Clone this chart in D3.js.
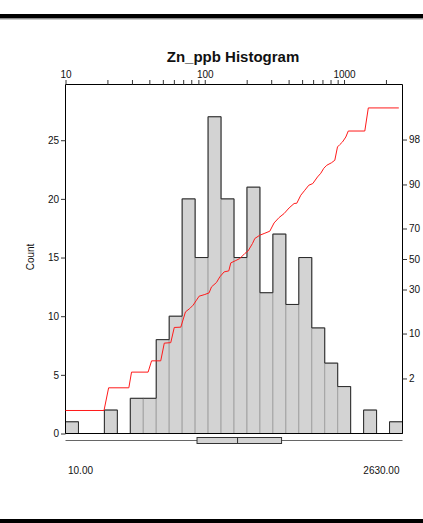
<!DOCTYPE html>
<html>
<head>
<meta charset="utf-8">
<script src="https://cdn.jsdelivr.net/npm/d3@7"></script>
<style>
  html, body { margin: 0; padding: 0; background: #fff; }
  svg { display: block; }
  text { font-family: "Liberation Sans", Arial, sans-serif; fill: #111; }
</style>
</head>
<body>
<svg id="chart" width="423" height="523"></svg>
<script>
// ---------------- data ----------------
const titleText = "Zn_ppb Histogram";
const yAxisLabel = "Count";
const dataMin = 10;
const dataMax = 2630;
// 26 equal-width (log) bins from dataMin to dataMax
const binCounts = [1, 0, 0, 2, 0, 3, 3, 8, 10, 20, 15, 27, 20, 15, 21, 12, 17, 11, 15, 9, 6, 4, 0, 2, 0, 1];
const countTicks = [0, 5, 10, 15, 20, 25];
const logMajorTicks = [10, 100, 1000];
const logMinorTicks = [20, 30, 40, 50, 60, 70, 80, 90, 200, 300, 400, 500, 600, 700, 800, 900, 2000];
const pctTicks = [2, 10, 30, 50, 70, 90, 98];
// cumulative probability line (value in ppb, cumulative percent)
const cdfValue = [10, 18.9, 20.4, 28.5, 29.8, 39.2, 41.5, 48.3, 51.2, 57.0, 60.4, 67.3, 72.7, 78.1, 82.5, 87.2, 91.1, 100.1,
  107.4, 111.8, 121.4, 128.2, 137.7, 148.8, 153.8, 167.1, 178.5, 193.9, 204.8, 220.2, 228.8, 248.5, 266.8, 293.1, 314.7,
  341.9, 371.3, 403.3, 438.1, 458.1, 489.3, 522.9, 558.5, 596.7, 645.0, 681.3, 715.8, 752.3, 813.0, 858.6, 897.8, 932.6,
  975.2, 1030, 1073, 1410, 1494, 2474];
const cdfPercent = [0.46, 0.46, 1.34, 1.34, 2.59, 2.59, 4.00, 4.00, 7.40, 7.52, 11.96, 12.06, 18.17, 19.75, 21.37, 23.95,
  26.13, 27.09, 28.01, 31.58, 34.32, 37.92, 41.23, 41.90, 47.33, 48.97, 50.34, 53.76, 55.53, 60.50, 63.77, 65.87, 66.93,
  68.36, 73.25, 76.21, 78.28, 81.00, 82.99, 83.12, 86.35, 88.14, 89.76, 90.27, 92.08, 92.98, 94.06, 94.65, 95.10, 95.52,
  97.30, 97.54, 97.79, 98.20, 98.61, 98.61, 99.53, 99.53];
// box plot summary
const boxMin = 10, boxQ1 = 88, boxMedian = 172, boxQ3 = 356, boxMax = 2630;

// ---------------- helpers ----------------
function probit(p) {
  // Acklam's inverse normal approximation
  const a = [-3.969683028665376e+01, 2.209460984245205e+02, -2.759285104469687e+02, 1.383577518672690e+02, -3.066479806614716e+01, 2.506628277459239e+00];
  const b = [-5.447609879822406e+01, 1.615858368580409e+02, -1.556989798598866e+02, 6.680131188771972e+01, -1.328068155288572e+01];
  const c = [-7.784894002430293e-03, -3.223964580411365e-01, -2.400758277161838e+00, -2.549732539343734e+00, 4.374664141464968e+00, 2.938163982698783e+00];
  const d = [7.784695709041462e-03, 3.224671290700398e-01, 2.445134137142996e+00, 3.754408661907416e+00];
  const pl = 0.02425, ph = 1 - pl;
  let q, r;
  if (p < pl) {
    q = Math.sqrt(-2 * Math.log(p));
    return (((((c[0]*q+c[1])*q+c[2])*q+c[3])*q+c[4])*q+c[5]) / ((((d[0]*q+d[1])*q+d[2])*q+d[3])*q+1);
  } else if (p <= ph) {
    q = p - 0.5; r = q * q;
    return (((((a[0]*r+a[1])*r+a[2])*r+a[3])*r+a[4])*r+a[5])*q / (((((b[0]*r+b[1])*r+b[2])*r+b[3])*r+b[4])*r+1);
  } else {
    q = Math.sqrt(-2 * Math.log(1 - p));
    return -(((((c[0]*q+c[1])*q+c[2])*q+c[3])*q+c[4])*q+c[5]) / ((((d[0]*q+d[1])*q+d[2])*q+d[3])*q+1);
  }
}

// ---------------- layout ----------------
const L = 65.5, R = 402.5, T = 84.5, B = 433.5;
const svg = d3.select("#chart");

const x = d3.scaleLog().domain([dataMin, dataMax]).range([L, R]);
const y = d3.scaleLinear().domain([0, 29.75]).range([B, T]);
const z = d3.scaleLinear().domain([-3, 3]).range([B, T]);

// top & bottom black bands
svg.append("rect").attr("x", 0).attr("y", 14).attr("width", 423).attr("height", 4.5).attr("fill", "#000");
svg.append("line").attr("x1", 0).attr("x2", 423).attr("y1", 19).attr("y2", 19).attr("stroke", "#999").attr("stroke-width", 1);
svg.append("rect").attr("x", 0).attr("y", 519).attr("width", 423).attr("height", 4.5).attr("fill", "#000");

// title
svg.append("text").attr("x", 233).attr("y", 62).attr("text-anchor", "middle")
  .style("font-size", "15px").style("font-weight", "bold").text(titleText);

// bins
const nb = binCounts.length;
const lmin = Math.log10(dataMin), lmax = Math.log10(dataMax);
const bins = binCounts.map((c, i) => ({
  x0: Math.pow(10, lmin + (lmax - lmin) * i / nb),
  x1: Math.pow(10, lmin + (lmax - lmin) * (i + 1) / nb),
  count: c
}));

svg.append("g").selectAll("rect").data(bins.filter(b => b.count > 0)).join("rect")
  .attr("x", d => x(d.x0)).attr("width", d => x(d.x1) - x(d.x0))
  .attr("y", d => y(d.count)).attr("height", d => B - y(d.count))
  .attr("fill", "#d3d3d3").attr("stroke", "#a3a3a3").attr("stroke-width", 1);

// envelope outline
let pathD = `M${x(bins[0].x0)},${B}`;
bins.forEach(b => {
  pathD += `V${y(b.count)}H${x(b.x1)}`;
});
pathD += `V${B}`;
svg.append("path").attr("d", pathD).attr("fill", "none").attr("stroke", "#2a2a2a").attr("stroke-width", 1);

// frame
svg.append("path").attr("d", `M${L},${B}V${T}H${R}V${B}H${L}`)
  .attr("fill", "none").attr("stroke", "#000").attr("stroke-width", 1);

// cumulative red line
const cdf = cdfValue.map((v, i) => [v, cdfPercent[i]]);
svg.append("path").datum(cdf)
  .attr("d", d3.line().x(d => x(d[0])).y(d => z(probit(d[1] / 100))))
  .attr("fill", "none").attr("stroke", "#ff1a1a").attr("stroke-width", 1);

// left axis
const gl = svg.append("g").attr("transform", `translate(${L},0)`)
  .call(d3.axisLeft(y).tickValues(countTicks).tickSize(4.5).tickPadding(2).tickFormat(d3.format("d")));
gl.select(".domain").remove();
gl.selectAll("text").style("font-size", "10px").style("font-family", "Liberation Sans, Arial, sans-serif").attr("fill", "#111");
gl.selectAll("line").attr("stroke", "#333");

svg.append("text").attr("transform", "translate(34,257) rotate(-90)").attr("text-anchor", "middle")
  .style("font-size", "10px").text(yAxisLabel);

// right (probability) axis
const gr = svg.append("g").attr("transform", `translate(${R},0)`)
  .call(d3.axisRight(z).tickValues(pctTicks.map(p => probit(p / 100))).tickSize(4.5).tickPadding(2)
    .tickFormat((d, i) => pctTicks[i]));
gr.select(".domain").remove();
gr.selectAll("text").style("font-size", "10px").style("font-family", "Liberation Sans, Arial, sans-serif").attr("fill", "#111");
gr.selectAll("line").attr("stroke", "#333");

// top log axis
const gt = svg.append("g").attr("transform", `translate(0,${T})`)
  .call(d3.axisTop(x).tickValues(logMajorTicks.concat(logMinorTicks)).tickSize(4.5).tickPadding(2)
    .tickFormat(d => logMajorTicks.includes(d) ? String(d) : ""));
gt.select(".domain").remove();
gt.selectAll("text").style("font-size", "10px").style("font-family", "Liberation Sans, Arial, sans-serif").attr("fill", "#111");
gt.selectAll("line").attr("stroke", "#333");

// box plot
const by = 440.5;
svg.append("line").attr("x1", x(boxMin)).attr("x2", x(boxMax)).attr("y1", by).attr("y2", by)
  .attr("stroke", "#666").attr("stroke-width", 1);
svg.append("rect").attr("x", x(boxQ1)).attr("y", 437.5).attr("width", x(boxQ3) - x(boxQ1)).attr("height", 6)
  .attr("fill", "#d3d3d3").attr("stroke", "#333").attr("stroke-width", 1);
svg.append("line").attr("x1", x(boxMedian)).attr("x2", x(boxMedian)).attr("y1", 437.5).attr("y2", 443.5)
  .attr("stroke", "#333").attr("stroke-width", 1);

// min / max labels
svg.append("text").attr("x", 68).attr("y", 474).style("font-size", "10px").text(d3.format(".2f")(dataMin));
svg.append("text").attr("x", 399.5).attr("y", 474).attr("text-anchor", "end").style("font-size", "10px").text(d3.format(".2f")(dataMax));
</script>
</body>
</html>
